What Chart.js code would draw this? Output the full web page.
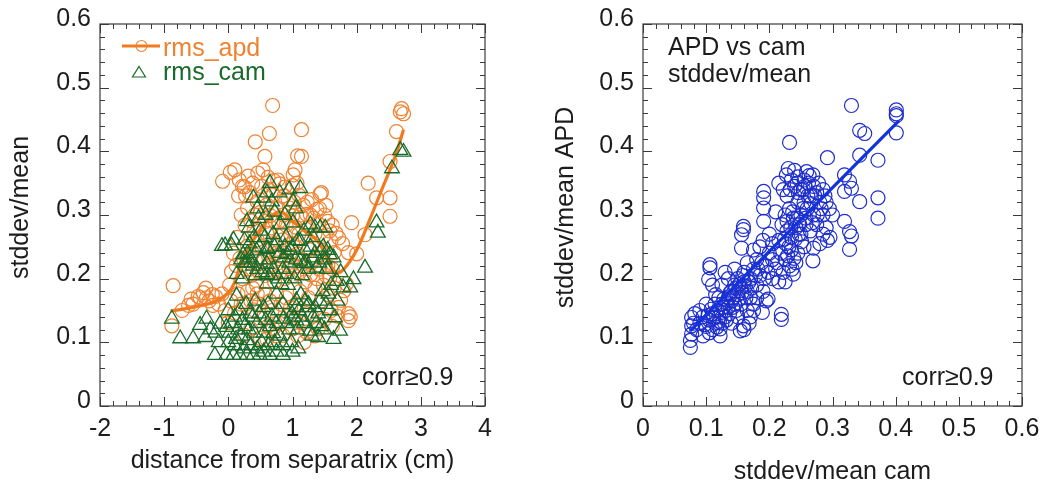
<!DOCTYPE html>
<html>
<head>
<meta charset="utf-8">
<title>stddev/mean</title>
<script src="https://cdn.jsdelivr.net/npm/chart.js@4.4.1/dist/chart.umd.min.js"></script>
<style>
  html, body { margin: 0; padding: 0; background: #fff; }
  #wrap { position: relative; width: 1050px; height: 484px; overflow: hidden; }
  .panel { position: absolute; top: 0; width: 525px; height: 484px; }
  #panelLeft { left: 0; }
  #panelRight { left: 525px; }
</style>
</head>
<body>
<div id="wrap">
  <div class="panel" id="panelLeft"><canvas id="chartDist" width="525" height="484"></canvas></div>
  <div class="panel" id="panelRight"><canvas id="chartCorr" width="525" height="484"></canvas></div>
</div>
<script>
// ---- left panel: stddev/mean vs distance from separatrix ----
const xTicksDist = [-2, -1, 0, 1, 2, 3, 4];
const yTicks = [0, 0.1, 0.2, 0.3, 0.4, 0.5, 0.6];

// rms_apd (orange circles) [distance, stddev/mean]
const apdPoints = [
  [-0.88,0.126],[-0.86,0.189],[-0.72,0.150],[-0.62,0.158],[-0.55,0.160],[-0.47,0.172],[-0.44,0.170],[-0.39,0.178],
  [-0.34,0.170],[-0.30,0.165],[-0.24,0.158],[-0.20,0.172],[-0.15,0.160],[-0.10,0.176],[-0.05,0.150],[0.00,0.131],
  [0.04,0.165],[0.10,0.146],[0.15,0.176],[0.20,0.160],
  [-0.09,0.353],[0.03,0.367],[0.10,0.371],[0.17,0.355],[0.25,0.344],[0.31,0.361],[0.42,0.415],[0.57,0.392],
  [0.64,0.428],[0.69,0.472],[0.46,0.366],[0.54,0.371],[0.62,0.359],[0.71,0.354],[0.80,0.349],[0.88,0.344],
  [1.01,0.363],[1.04,0.371],[1.08,0.393],[1.14,0.434],[1.14,0.392],[1.00,0.346],[1.10,0.331],[1.22,0.301],
  [1.30,0.324],[1.43,0.333],[1.45,0.335],[1.38,0.309],[1.50,0.300],[1.55,0.290],[1.62,0.284],[1.68,0.271],
  [1.72,0.264],[1.60,0.259],[1.65,0.241],
  [0.20,0.300],[0.26,0.284],[0.30,0.311],[0.35,0.291],[0.40,0.276],[0.45,0.321],[0.50,0.304],[0.55,0.331],
  [0.60,0.316],[0.65,0.299],[0.70,0.331],[0.75,0.310],[0.78,0.289],[0.82,0.321],[0.86,0.300],[0.90,0.284],
  [0.95,0.311],[1.00,0.299],[1.05,0.281],[1.10,0.270],[1.15,0.296],[1.20,0.265],[1.26,0.281],[1.35,0.270],
  [1.40,0.286],[1.48,0.266],
  [0.30,0.251],[0.38,0.240],[0.45,0.261],[0.52,0.250],[0.60,0.271],[0.68,0.256],[0.75,0.240],[0.85,0.261],
  [0.92,0.245],[1.00,0.255],[1.08,0.239],[1.15,0.230],[1.25,0.246],[1.35,0.231],[1.45,0.241],[1.55,0.220],
  [0.05,0.211],[0.12,0.221],[0.18,0.232],[0.22,0.200],[0.28,0.215],[0.36,0.205],[0.44,0.190],[0.58,0.205],
  [0.65,0.221],[0.72,0.195],[0.80,0.210],[0.88,0.200],[0.95,0.216],[1.02,0.205],[1.12,0.211],[1.20,0.195],
  [1.28,0.206],[1.38,0.200],[1.48,0.190],[1.58,0.201],
  [0.30,0.180],[0.35,0.165],[0.40,0.151],[0.45,0.176],[0.55,0.141],[0.62,0.126],[0.70,0.121],[0.78,0.131],
  [0.85,0.111],[0.92,0.141],[1.00,0.121],[1.08,0.110],[1.15,0.131],[1.22,0.116],[1.30,0.141],[1.40,0.121],
  [1.50,0.136],[1.60,0.150],[1.70,0.141],[1.75,0.166],[1.80,0.181],[0.25,0.111],[0.35,0.121],[0.50,0.106],
  [0.65,0.165],[0.75,0.176],[0.90,0.170],[1.05,0.160],[1.25,0.170],[1.45,0.165],
  [1.84,0.192],[1.87,0.145],[1.90,0.140],[1.87,0.134],[1.87,0.241],[1.92,0.288],[2.00,0.239],[2.13,0.269],
  [2.18,0.350],[2.31,0.327],[2.52,0.327],[2.52,0.298],[2.52,0.384],[2.62,0.431],[2.70,0.467],[2.73,0.459],
  [2.68,0.462],[1.78,0.255],
  [0.02,0.190],[0.08,0.240],[0.14,0.265],[0.16,0.330],[0.22,0.345],[0.27,0.330],[0.33,0.335],[0.38,0.350],
  [0.41,0.300],[0.48,0.285],[0.52,0.345],[0.58,0.290],[0.63,0.340],[0.67,0.280],[0.73,0.290],[0.77,0.355],
  [0.83,0.270],[0.87,0.330],[0.93,0.325],[0.97,0.270],[1.03,0.320],[1.07,0.350],[1.12,0.300],[1.17,0.315],
  [1.23,0.320],[1.28,0.300],[1.33,0.295],[1.42,0.310],[1.52,0.315],[1.58,0.275],[0.24,0.230],[0.33,0.215],
  [0.42,0.230],[0.48,0.210],[0.56,0.230],[0.63,0.245],[0.70,0.235],[0.78,0.225],[0.83,0.235],[0.97,0.235],
  [1.05,0.220],[1.18,0.220],[1.30,0.225],[1.42,0.215],[1.52,0.205],[1.62,0.215],[0.27,0.160],[0.38,0.185],
  [0.48,0.160],[0.58,0.175],[0.68,0.150],[0.82,0.160],[0.97,0.155],[1.12,0.180],[1.22,0.145],[1.35,0.185],
  [1.55,0.175],[1.65,0.185],[0.60,0.105],[0.75,0.110],[1.18,0.100],[1.35,0.110],[1.62,0.125],[1.72,0.155],
  [-0.25,0.175],[-0.35,0.185],[-0.58,0.168]
];

// rms_cam (green triangles) [distance, stddev/mean]
const camPoints = [
  [-0.88,0.137],[-0.75,0.106],[-0.55,0.106],[-0.44,0.127],[-0.36,0.108],[-0.34,0.137],[-0.28,0.120],[-0.21,0.080],
  [-0.13,0.129],[-0.10,0.251],[-0.05,0.252],[-0.03,0.124],[-0.03,0.080],[0.02,0.115],[0.05,0.252],[0.08,0.261],
  [0.08,0.080],[0.10,0.140],[0.13,0.173],[0.13,0.207],[0.18,0.150],[0.18,0.080],[0.20,0.110],[0.23,0.238],
  [0.26,0.125],[0.29,0.103],[0.29,0.290],[0.29,0.080],[0.34,0.233],[0.34,0.145],[0.39,0.327],[0.39,0.080],
  [0.40,0.115],[0.44,0.244],[0.47,0.295],[0.49,0.080],[0.55,0.327],[0.55,0.155],[0.60,0.223],[0.60,0.192],
  [0.60,0.207],[0.60,0.248],[0.62,0.246],[0.65,0.350],[0.65,0.080],[0.68,0.321],[0.70,0.114],[0.75,0.176],
  [0.81,0.285],[0.83,0.191],[0.86,0.233],[0.86,0.137],[0.86,0.095],[0.91,0.207],[0.91,0.238],[0.99,0.145],
  [1.01,0.321],[1.01,0.288],[1.06,0.166],[1.06,0.134],[1.06,0.155],[1.09,0.090],[1.12,0.259],[1.12,0.342],
  [1.12,0.228],[1.18,0.224],[1.22,0.155],[1.27,0.118],[1.32,0.265],[1.32,0.140],[1.32,0.233],[1.38,0.217],
  [1.40,0.108],[1.43,0.280],[1.43,0.165],[1.45,0.244],[1.47,0.180],[1.50,0.120],[1.51,0.280],[1.56,0.176],
  [1.58,0.238],[1.58,0.150],[1.64,0.233],[1.64,0.105],[1.66,0.139],[1.69,0.196],[1.74,0.118],[1.79,0.186],
  [1.90,0.186],[1.95,0.199],[2.13,0.217],[2.31,0.288],[2.33,0.272],[2.55,0.373],[2.68,0.402],[2.73,0.399],
  [0.20,0.230],[0.25,0.225],[0.30,0.240],[0.35,0.225],[0.45,0.215],[0.50,0.230],[0.70,0.215],[0.75,0.260],
  [0.80,0.240],[0.95,0.225],[1.00,0.250],[1.05,0.230],[1.20,0.245],[1.25,0.215],[1.50,0.230],[1.55,0.245],
  [0.45,0.130],[0.55,0.115],[0.65,0.125],[0.75,0.130],[0.80,0.110],[0.95,0.120],[1.10,0.150],[1.15,0.140],
  [1.20,0.165],[1.35,0.155],[1.40,0.145],[0.50,0.275],[0.70,0.270],[0.90,0.265],[1.35,0.280],[0.15,0.120],
  [0.00,0.100],[-0.15,0.100],[0.35,0.095],[0.55,0.085],[0.75,0.085],[0.60,0.335],[0.80,0.335],[1.05,0.310],
  [0.40,0.265],[0.25,0.260],
  [0.05,0.130],[0.12,0.105],[0.22,0.135],[0.28,0.160],[0.32,0.120],[0.38,0.140],[0.42,0.165],[0.48,0.145],
  [0.52,0.100],[0.58,0.135],[0.62,0.160],[0.68,0.140],[0.72,0.100],[0.78,0.150],[0.85,0.160],[0.92,0.130],
  [0.98,0.100],[1.02,0.140],[1.08,0.120],[1.13,0.175],[1.18,0.130],[1.25,0.160],[1.30,0.110],[1.37,0.130],
  [1.45,0.125],[1.52,0.160],[1.60,0.190],[1.70,0.165],[1.75,0.210],[0.22,0.200],[0.28,0.225],[0.33,0.255],
  [0.38,0.220],[0.42,0.205],[0.48,0.250],[0.53,0.210],[0.57,0.265],[0.63,0.230],[0.67,0.205],[0.72,0.250],
  [0.78,0.200],[0.85,0.215],[0.88,0.250],[0.93,0.190],[0.97,0.245],[1.03,0.200],[1.08,0.260],[1.15,0.205],
  [1.22,0.225],[1.28,0.250],[1.35,0.240],[1.42,0.225],[1.48,0.250],[1.53,0.215],[0.32,0.280],[0.45,0.310],
  [0.58,0.300],[0.72,0.305],[0.88,0.300],[0.95,0.340],[1.18,0.275],[1.28,0.285],[0.10,0.095],[0.25,0.090],
  [0.45,0.090],[0.62,0.095],[0.85,0.080],[1.00,0.085],[0.00,0.150],[-0.20,0.115]
];

// smoothed rms_apd trend
const apdFit = [
  [-0.90,0.149],[-0.50,0.156],[-0.20,0.164],[0.00,0.178],[0.10,0.195],[0.20,0.225],[0.40,0.262],[0.60,0.290],
  [0.80,0.305],[1.00,0.290],[1.20,0.275],[1.40,0.258],[1.55,0.230],[1.68,0.210],[1.80,0.215],[2.00,0.245],
  [2.20,0.292],[2.40,0.342],[2.60,0.392],[2.73,0.434]
];

// ---- right panel: APD vs cam ----
const xTicksCorr = [0, 0.1, 0.2, 0.3, 0.4, 0.5, 0.6];

// [stddev/mean cam, stddev/mean APD]
const corrPoints = [
  [0.330,0.472],[0.401,0.465],[0.401,0.459],[0.401,0.456],[0.401,0.429],[0.343,0.433],[0.351,0.428],[0.343,0.394],
  [0.372,0.386],[0.232,0.414],[0.292,0.390],[0.319,0.363],[0.327,0.353],[0.319,0.337],[0.330,0.342],[0.343,0.321],
  [0.372,0.327],[0.372,0.295],[0.319,0.290],[0.327,0.274],[0.330,0.267],[0.327,0.246],[0.191,0.337],[0.191,0.327],
  [0.191,0.311],[0.191,0.290],[0.159,0.282],[0.159,0.277],[0.156,0.269],[0.156,0.248],[0.106,0.222],[0.106,0.217],
  [0.104,0.199],[0.219,0.144],[0.219,0.136],[0.198,0.168],[0.189,0.147],[0.075,0.092],[0.075,0.103],[0.077,0.113],
  [0.077,0.139],[0.077,0.126],[0.122,0.110],[0.122,0.121],[0.154,0.118],[0.159,0.126],[0.269,0.228],[0.238,0.207],
  [0.230,0.373],[0.227,0.363],[0.259,0.368],[0.269,0.363],
  [0.215,0.350],[0.222,0.340],[0.228,0.330],[0.235,0.355],[0.240,0.345],[0.245,0.360],[0.250,0.340],[0.255,0.355],
  [0.262,0.350],[0.270,0.345],[0.275,0.335],[0.285,0.340],[0.290,0.320],[0.295,0.310],[0.280,0.320],[0.270,0.300],
  [0.260,0.310],[0.250,0.300],[0.245,0.320],[0.238,0.295],[0.232,0.310],[0.225,0.300],[0.220,0.285],[0.228,0.275],
  [0.235,0.265],[0.242,0.280],[0.250,0.270],[0.258,0.285],[0.265,0.275],[0.275,0.285],[0.285,0.270],[0.292,0.260],
  [0.280,0.255],[0.270,0.248],[0.255,0.250],[0.245,0.240],[0.235,0.245],[0.225,0.230],[0.218,0.240],[0.212,0.225],
  [0.222,0.210],[0.232,0.220],[0.242,0.225],[0.215,0.260],[0.205,0.255],[0.200,0.270],[0.210,0.305],[0.300,0.300],
  [0.265,0.330],[0.240,0.370],[0.255,0.320],[0.285,0.300],
  [0.085,0.120],[0.090,0.130],[0.095,0.140],[0.100,0.125],[0.105,0.135],[0.110,0.145],[0.110,0.120],[0.115,0.130],
  [0.118,0.150],[0.120,0.140],[0.125,0.130],[0.125,0.160],[0.130,0.150],[0.130,0.140],[0.135,0.170],[0.135,0.155],
  [0.140,0.165],[0.140,0.180],[0.145,0.190],[0.145,0.160],[0.150,0.175],[0.150,0.200],[0.155,0.185],[0.155,0.160],
  [0.160,0.195],[0.160,0.210],[0.165,0.180],[0.165,0.150],[0.170,0.200],[0.170,0.170],[0.175,0.215],[0.175,0.160],
  [0.180,0.190],[0.180,0.230],[0.185,0.205],[0.190,0.180],[0.195,0.220],[0.200,0.240],[0.205,0.200],[0.210,0.215],
  [0.135,0.200],[0.125,0.190],[0.115,0.175],[0.100,0.160],[0.090,0.150],[0.080,0.130],[0.082,0.145],[0.095,0.110],
  [0.105,0.115],[0.140,0.130],[0.150,0.140],[0.120,0.170],[0.110,0.190],[0.130,0.210],[0.145,0.215],[0.165,0.225],
  [0.175,0.245],[0.185,0.250],[0.190,0.260],[0.170,0.140],[0.160,0.120],
  [0.098,0.128],[0.103,0.142],[0.108,0.152],[0.112,0.138],[0.114,0.160],[0.117,0.124],[0.121,0.133],[0.124,0.147],
  [0.127,0.155],[0.128,0.168],[0.132,0.135],[0.133,0.162],[0.137,0.145],[0.138,0.178],[0.142,0.155],[0.143,0.170],
  [0.147,0.185],[0.148,0.150],[0.152,0.168],[0.153,0.192],[0.157,0.178],[0.158,0.205],[0.162,0.188],[0.163,0.170],
  [0.168,0.195],[0.172,0.185],[0.178,0.205],[0.182,0.215],[0.188,0.225],[0.192,0.200],
  [0.224,0.262],[0.228,0.290],[0.231,0.250],[0.234,0.280],[0.237,0.305],[0.239,0.232],[0.241,0.262],[0.243,0.295],
  [0.246,0.335],[0.248,0.285],[0.251,0.258],[0.253,0.310],[0.256,0.345],[0.258,0.295],[0.261,0.330],[0.263,0.362],
  [0.266,0.318],[0.268,0.288],[0.272,0.330],[0.276,0.300],[0.278,0.350],[0.282,0.310],[0.288,0.330],[0.229,0.236],
  [0.236,0.215],[0.226,0.255],[0.247,0.270],[0.254,0.340],[0.244,0.350],[0.233,0.340],
  [0.290,0.280],[0.296,0.265],[0.205,0.230],[0.198,0.210],[0.215,0.195],[0.225,0.195],[0.180,0.170],[0.195,0.165],
  [0.168,0.130],[0.175,0.150]
];

// linear fit APD vs cam
const corrFit = [[0.075,0.118],[0.405,0.448]];

// ---- styling ----
const FONT = '"Liberation Sans", Arial, Helvetica, sans-serif';
const INK = '#1c1c1c';
const ORANGE = 'rgb(240,130,48)';
const ORANGE_LINE = 'rgb(242,122,30)';
const GREEN = 'rgb(24,108,42)';
const BLUE = 'rgb(30,46,204)';
const BLUE_LINE = 'rgb(18,50,220)';

Chart.defaults.font.family = FONT;
Chart.defaults.font.size = 25;
Chart.defaults.color = INK;

const toXY = arr => arr.map(([x, y]) => ({ x, y }));

// inward tick marks on both sides of an axis
function tickMarks(ctx, scale, minor, major, a, horizontal) {
    const n = Math.round((scale.max - scale.min) / minor);
    for (let i = 0; i <= n; i++) {
        const v = scale.min + i * minor;
        const r = v / major;
        const len = Math.abs(r - Math.round(r)) < 1e-6 ? 9 : 5;
        const p = Math.round(scale.getPixelForValue(v)) + 0.5;
        if (horizontal) {
            ctx.moveTo(p, a.bottom); ctx.lineTo(p, a.bottom - len);
            ctx.moveTo(p, a.top); ctx.lineTo(p, a.top + len);
        } else {
            ctx.moveTo(a.left, p); ctx.lineTo(a.left + len, p);
            ctx.moveTo(a.right, p); ctx.lineTo(a.right - len, p);
        }
    }
}

// frame, ticks, rotated y title, free text and hand legend
function decorPlugin(cfg) {
    return {
        id: 'decor',
        afterDraw(chart) {
            const { ctx, chartArea: a, scales } = chart;
            ctx.save();
            ctx.strokeStyle = '#3a3a3a';
            ctx.lineWidth = 1.2;
            ctx.strokeRect(a.left, a.top, a.right - a.left, a.bottom - a.top);
            ctx.beginPath();
            ctx.lineWidth = 1;
            tickMarks(ctx, scales.x, cfg.xMinor, cfg.xMajor, a, true);
            tickMarks(ctx, scales.y, 0.02, 0.1, a, false);
            ctx.stroke();

            ctx.font = '25px ' + FONT;
            ctx.textBaseline = 'alphabetic';

            // y title
            ctx.save();
            ctx.translate(cfg.yTitle.x, cfg.yTitle.y);
            ctx.rotate(-Math.PI / 2);
            ctx.textAlign = 'center';
            ctx.fillStyle = INK;
            ctx.fillText(cfg.yTitle.text, 0, 0);
            ctx.restore();

            ctx.textAlign = 'left';
            cfg.notes.forEach(n => {
                ctx.fillStyle = n.color || INK;
                ctx.fillText(n.text, n.x, n.y);
            });

            if (cfg.legend) cfg.legend(ctx);
            ctx.restore();
        }
    };
}

function drawLegendLeft(ctx) {
    // rms_apd: line + circle
    ctx.strokeStyle = ORANGE_LINE;
    ctx.lineWidth = 3;
    ctx.beginPath();
    ctx.moveTo(122, 46); ctx.lineTo(160, 46);
    ctx.stroke();
    ctx.lineWidth = 1.2;
    ctx.strokeStyle = ORANGE;
    ctx.beginPath();
    ctx.arc(141.5, 46, 5.5, 0, Math.PI * 2);
    ctx.stroke();
    ctx.fillStyle = ORANGE;
    ctx.fillText('rms_apd', 163, 56);

    // rms_cam: triangle
    ctx.strokeStyle = GREEN;
    ctx.lineWidth = 1.2;
    ctx.beginPath();
    ctx.moveTo(139, 66.5); ctx.lineTo(145.5, 77); ctx.lineTo(132.5, 77);
    ctx.closePath();
    ctx.stroke();
    ctx.fillStyle = GREEN;
    ctx.fillText('rms_cam', 163, 80);
}

function axisX(min, max, ticks, title, titlePad, titleLH) {
    return {
        type: 'linear', min, max,
        afterBuildTicks: s => { s.ticks = ticks.map(v => ({ value: v })); },
        afterFit: s => { s.height = 78; },
        grid: { display: false, drawTicks: false },
        border: { display: false },
        ticks: { padding: 8, font: { size: 25, lineHeight: 1.2 }, color: INK, callback: v => String(v) },
        title: { display: true, text: title, color: INK, padding: { top: 0, bottom: titlePad }, font: { size: 25, lineHeight: titleLH } }
    };
}

function axisY(width) {
    return {
        type: 'linear', min: 0, max: 0.6,
        afterBuildTicks: s => { s.ticks = yTicks.map(v => ({ value: v })); },
        afterFit: s => { s.width = width; },
        grid: { display: false, drawTicks: false },
        border: { display: false },
        ticks: { padding: 9, labelOffset: -5, font: { size: 25 }, color: INK, callback: v => String(v) }
    };
}

// left chart
new Chart(document.getElementById('chartDist'), {
    type: 'scatter',
    data: {
        datasets: [
            { label: 'rms_cam', data: toXY(camPoints), pointStyle: 'triangle', pointRadius: 8.5,
              borderColor: GREEN, backgroundColor: 'rgba(0,0,0,0)', borderWidth: 1.3, order: 0 },
            { label: 'apd trend', data: toXY(apdFit), showLine: true, tension: 0.4,
              borderColor: ORANGE_LINE, borderWidth: 3.2, pointRadius: 0, order: 1 },
            { label: 'rms_apd', data: toXY(apdPoints), pointStyle: 'circle', pointRadius: 7,
              borderColor: ORANGE, backgroundColor: 'rgba(0,0,0,0)', borderWidth: 1.2, order: 2 }
        ]
    },
    options: {
        responsive: false,
        animation: false,
        events: [],
        layout: { padding: { left: 0, right: 40, top: 22, bottom: 0 } },
        plugins: { legend: { display: false }, tooltip: { enabled: false } },
        scales: {
            x: axisX(-2, 4, xTicksDist, 'distance from separatrix (cm)', 10.5, 1),
            y: axisY(100)
        }
    },
    plugins: [decorPlugin({
        xMinor: 0.2, xMajor: 1,
        yTitle: { text: 'stddev/mean', x: 28, y: 207.5 },
        notes: [{ text: 'corr≥0.9', x: 362, y: 385 }],
        legend: drawLegendLeft
    })]
});

// right chart
new Chart(document.getElementById('chartCorr'), {
    type: 'scatter',
    data: {
        datasets: [
            { label: 'fit', data: toXY(corrFit), showLine: true,
              borderColor: BLUE_LINE, borderWidth: 3.2, pointRadius: 0, order: 0 },
            { label: 'APD vs cam', data: toXY(corrPoints), pointStyle: 'circle', pointRadius: 7,
              borderColor: BLUE, backgroundColor: 'rgba(0,0,0,0)', borderWidth: 1.2, order: 1 }
        ]
    },
    options: {
        responsive: false,
        animation: false,
        events: [],
        layout: { padding: { left: 0, right: 28, top: 22, bottom: 0 } },
        plugins: { legend: { display: false }, tooltip: { enabled: false } },
        scales: {
            x: axisX(0, 0.6, xTicksCorr, 'stddev/mean cam', 0.5, 0.9),
            y: axisY(118)
        }
    },
    plugins: [decorPlugin({
        xMinor: 0.02, xMajor: 0.1,
        yTitle: { text: 'stddev/mean APD', x: 48, y: 207.5 },
        notes: [
            { text: 'APD vs cam', x: 143, y: 55 },
            { text: 'stddev/mean', x: 143, y: 82 },
            { text: 'corr≥0.9', x: 377, y: 385 }
        ]
    })]
});
</script>
</body>
</html>
